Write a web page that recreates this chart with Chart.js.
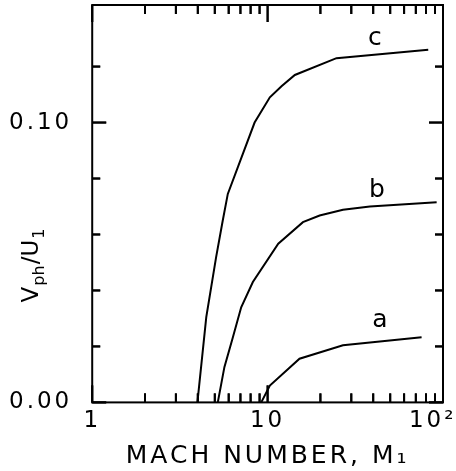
<!DOCTYPE html>
<html lang="en">
<head>
<meta charset="UTF-8">
<title>Vph/U1 vs Mach number</title>
<script src="https://cdn.jsdelivr.net/npm/chart.js"></script>
<style>
  html, body { margin: 0; padding: 0; background: #fff; }
  .wrap { width: 456px; height: 471px; }
</style>
</head>
<body>
<div class="wrap"><canvas id="machChart"></canvas></div>
<script>
// curves (Mach number, Vph/U1)
const machA = [9.2, 10.3, 15.2, 26.9, 75.5];
const velA  = [0, 0.006, 0.0156, 0.0204, 0.0233];
const machB = [5.2, 5.67, 6.34, 7.07, 8.24, 11.5, 15.9, 19.8, 26.9, 38.3, 92];
const velB  = [0, 0.0126, 0.0233, 0.034, 0.043, 0.0567, 0.0644, 0.0668, 0.0688, 0.070, 0.0715];
const machC = [3.98, 4.47, 5.09, 5.55, 5.93, 8.43, 10.3, 12.0, 14.3, 24.7, 82.4];
const velC  = [0, 0.0305, 0.052, 0.065, 0.0745, 0.100, 0.109, 0.113, 0.117, 0.123, 0.126];

const curveNames = ['a', 'b', 'c'];
const nameMach = [43.7, 42, 40.9];
const nameVel  = [0.0293, 0.0757, 0.130];

const xLabelTicks = [1, 10, 100];
const xLabelText  = ['1', '10', '10\u00b2  '];   // trailing spaces pull the last label inside
const xMinorTicks = [2, 3, 4, 5, 6, 7, 8, 9, 20, 30, 40, 50, 60, 70, 80, 90];
const yLabelTicks = [0, 0.10];
const yMinorTicks = [0.02, 0.04, 0.06, 0.08, 0.12];

const FONT = "'DejaVu Sans', sans-serif";

function toPoints(xs, ys) {
    return xs.map((x, i) => ({ x: x, y: ys[i] }));
}

const spacing = {
    id: 'spacing',
    beforeLayout(chart) { chart.ctx.letterSpacing = '3px'; },
    beforeDraw(chart) { chart.ctx.letterSpacing = '3px'; }
};

function drawTicks(chart) {
    const ctx = chart.ctx;
    const a = chart.chartArea;
    const xs = chart.scales.x;
    const ys = chart.scales.y;
    ctx.save();
    ctx.strokeStyle = '#000';
    ctx.lineWidth = 2;
    const bottom = ys.getPixelForValue(0);
    const left = xs.getPixelForValue(1);
    const line = (x0, y0, x1, y1) => {
        ctx.beginPath();
        ctx.moveTo(x0, y0);
        ctx.lineTo(x1, y1);
        ctx.stroke();
    };
    const xTick = (v, len) => {
        const px = xs.getPixelForValue(v);
        line(px, bottom, px, bottom - len);
        line(px, a.top, px, a.top + len);
    };
    const yTick = (v, len) => {
        const py = ys.getPixelForValue(v);
        line(left, py, left + len, py);
        line(a.right, py, a.right - len, py);
    };
    xMinorTicks.forEach(v => xTick(v, 9));
    xLabelTicks.forEach(v => xTick(v, 17));
    yMinorTicks.forEach(v => yTick(v, 8));
    yLabelTicks.forEach(v => yTick(v, 14));
    ctx.restore();
}

// box, inward ticks on all four sides, curve names, y title
const frame = {
    id: 'frame',
    afterDatasetsDraw(chart) { drawTicks(chart); },
    afterDraw(chart) {
        const ctx = chart.ctx;
        const a = chart.chartArea;
        const xs = chart.scales.x;
        const ys = chart.scales.y;
        ctx.save();
        ctx.strokeStyle = '#000';
        ctx.fillStyle = '#000';
        ctx.lineWidth = 2;
        ctx.strokeRect(a.left, a.top, a.right - a.left, a.bottom - a.top);
        ctx.restore();
        drawTicks(chart);

        ctx.save();
        ctx.fillStyle = '#000';
        ctx.textAlign = 'center';
        ctx.textBaseline = 'middle';
        ctx.letterSpacing = '0px';
        ctx.font = '25px ' + FONT;
        curveNames.forEach((n, i) => {
            ctx.fillText(n, xs.getPixelForValue(nameMach[i]), ys.getPixelForValue(nameVel[i]));
        });

        // y title: V_ph / U_1
        ctx.translate(a.left - 62, a.top + 260);
        ctx.rotate(-Math.PI / 2);
        ctx.textAlign = 'left';
        ctx.textBaseline = 'alphabetic';
        const parts = [['V', 23, 0], ['ph', 16, 6], ['/U', 23, 0], ['1', 16, 6]];
        let w = 0;
        parts.forEach(p => { ctx.font = p[1] + 'px ' + FONT; w += ctx.measureText(p[0]).width + 1; });
        let x = -w / 2;
        parts.forEach(p => {
            ctx.font = p[1] + 'px ' + FONT;
            ctx.fillText(p[0], x, 8 + p[2]);
            x += ctx.measureText(p[0]).width + 1;
        });
        ctx.restore();
    }
};

const lineStyle = {
    showLine: true,
    borderColor: '#000',
    borderWidth: 2,
    pointRadius: 0,
    tension: 0,
    fill: false
};

new Chart(document.getElementById('machChart'), {
    type: 'scatter',
    data: {
        datasets: [
            Object.assign({ label: 'a', data: toPoints(machA, velA) }, lineStyle),
            Object.assign({ label: 'b', data: toPoints(machB, velB) }, lineStyle),
            Object.assign({ label: 'c', data: toPoints(machC, velC) }, lineStyle)
        ]
    },
    options: {
        responsive: true,
        maintainAspectRatio: false,
        animation: false,
        layout: { padding: { left: 9, right: 13, top: 5, bottom: 0 } },
        plugins: { legend: { display: false }, tooltip: { enabled: false } },
        scales: {
            x: {
                type: 'logarithmic',
                min: 1,
                max: 100,
                afterBuildTicks: s => { s.ticks = xLabelTicks.map(v => ({ value: v })); },
                afterFit: s => { s.paddingLeft = 0; s.paddingRight = 0; },
                grid: { display: true, color: 'rgba(0,0,0,0)', drawOnChartArea: false, tickLength: 5 },
                border: { display: false },
                ticks: {
                    autoSkip: false,
                    maxRotation: 0,
                    padding: 0,
                    color: '#000',
                    font: { family: FONT, size: 23 },
                    callback: v => xLabelText[xLabelTicks.indexOf(v)]
                },
                title: {
                    display: true,
                    text: 'MACH NUMBER, M\u2081',
                    color: '#000',
                    font: { family: FONT, size: 25 },
                    padding: { top: 6, bottom: 0 }
                }
            },
            y: {
                min: 0,
                max: 0.142,
                afterBuildTicks: s => { s.ticks = yLabelTicks.map(v => ({ value: v })); },
                grid: { display: true, color: 'rgba(0,0,0,0)', drawOnChartArea: false, tickLength: 20 },
                border: { display: false },
                ticks: {
                    padding: 0,
                    color: '#000',
                    font: { family: FONT, size: 23, lineHeight: 0.4 },
                    callback: v => v.toFixed(2)
                }
            }
        }
    },
    plugins: [spacing, frame]
});
</script>
</body>
</html>
